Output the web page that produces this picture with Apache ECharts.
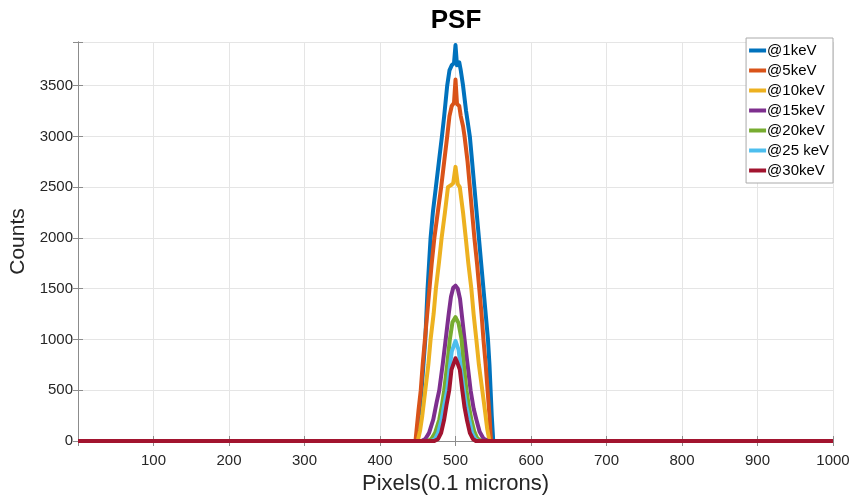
<!DOCTYPE html>
<html>
<head>
<meta charset="utf-8">
<script src="https://cdn.jsdelivr.net/npm/echarts@6/dist/echarts.min.js"></script>
<style>
html,body{margin:0;padding:0;background:#fff;}
#chart{width:855px;height:495px;}
</style>
</head>
<body>
<div id="chart"></div>
<script>
const seriesNames = ['@1keV','@5keV','@10keV','@15keV','@20keV','@25 keV','@30keV'];
const xTicks = [100,200,300,400,500,600,700,800,900,1000];
const yTicks = [0,500,1000,1500,2000,2500,3000,3500];

const psf1keV = [[0,0],[448,0],[450,150],[453,350],[455,500],[458,800],[460,1000],[461.5,1250],[463,1500],[465,1750],[467,2000],[470,2250],[474,2500],[478,2750],[482,3000],[485,3200],[489,3500],[492,3650],[495,3700],[498,3720],[500,3900],[502,3700],[505,3730],[507,3650],[510,3500],[514,3250],[519,3000],[522,2750],[525,2500],[528,2250],[531,2000],[534,1750],[537,1500],[540,1250],[543,1000],[545,750],[546.5,500],[548,250],[550,0],[1000,0]];
const psf5keV = [[0,0],[447,0],[449,150],[451,300],[454,500],[456.5,750],[459.5,1000],[462.5,1250],[465.5,1500],[468.5,1750],[472,2000],[476.5,2250],[481,2500],[485,2750],[489,3000],[492,3200],[495,3300],[498,3330],[500,3560],[502,3320],[505,3300],[507,3200],[510,3100],[512,3000],[516,2750],[519,2500],[522,2250],[525,2000],[528.5,1750],[531.5,1500],[534.5,1250],[537,1000],[540,750],[542.5,500],[545,250],[547,0],[1000,0]];
const psf10keV = [[0,0],[450,0],[453,100],[456,250],[460,500],[464,750],[467,1000],[471,1250],[474,1500],[478,1750],[481.6,2000],[486,2250],[490,2500],[494,2520],[497,2540],[500,2700],[503,2530],[505.7,2500],[510,2250],[513.6,2000],[517,1750],[521,1500],[524,1250],[527.6,1000],[531,750],[535.5,500],[539,300],[542,120],[545,0],[1000,0]];
const psf15keV = [[0,0],[455,0],[460,20],[465,80],[470.6,212],[475,380],[478.5,500],[483,750],[487,1000],[491,1250],[494,1420],[497,1510],[500,1530],[503,1500],[506,1400],[509,1200],[512,1000],[516,750],[520,500],[524,320],[527.6,212],[532,90],[537,25],[543,0],[1000,0]];
const psf20keV = [[0,0],[463,0],[468,20],[473,80],[478.5,212],[482,350],[485,500],[489,750],[492.5,1000],[496,1170],[500,1220],[504,1160],[508,1000],[511,750],[514.5,500],[518,330],[521,212],[525,90],[529,25],[534,0],[1000,0]];
const psf25keV = [[0,0],[468,0],[473,20],[477,80],[481.6,212],[485,350],[489,500],[492,700],[495,880],[500,985],[504,900],[507,720],[511,500],[514,350],[518,212],[522,80],[526,20],[530,0],[1000,0]];
const psf30keV = [[0,0],[472,0],[477,20],[481,80],[485,212],[488,350],[491.7,500],[494.7,703],[500,815],[503,760],[505.7,703],[509,500],[512,330],[515,212],[519,80],[523,20],[527,0],[1000,0]];

const allData = [psf1keV, psf5keV, psf10keV, psf15keV, psf20keV, psf25keV, psf30keV];
const colors = ['#0072BD','#D95319','#EDB120','#7E2F8E','#77AC30','#4DBEEE','#A2142F'];

const FONT = 'Liberation Sans, Arial, Helvetica, sans-serif';
const chart = echarts.init(document.getElementById('chart'), null, {renderer:'canvas'});

const gridLine = {show:true, lineStyle:{color:'#e5e5e5', width:1}};
const axisLineStyle = {show:true, lineStyle:{color:'#8c8c8c', width:1}};

chart.setOption({
  animation:false,
  backgroundColor:'#ffffff',
  color: colors,
  title:{
    text:'PSF', left:451, top:3, textAlign:'center',
    textStyle:{fontFamily:FONT, fontWeight:'bold', fontSize:26, color:'#000'}
  },
  legend:{
    orient:'vertical', right:22, top:38,
    data: seriesNames,
    icon:'rect', itemWidth:17, itemHeight:4, itemGap:5,
    backgroundColor:'#fff', borderColor:'#aaaaaa', borderWidth:1,
    padding:[5,4,5,3],
    textStyle:{fontFamily:FONT, fontSize:15, color:'#000', padding:[0,0,0,-4]}
  },
  grid:{left:78, right:22, top:42, bottom:54, containLabel:false, outerBoundsMode:'none'},
  xAxis:[{
    type:'value', min:0, max:1000, interval:100,
    name:'Pixels(0.1 microns)', nameLocation:'middle', nameGap:30,
    nameTextStyle:{fontFamily:FONT, fontSize:22, color:'#262626'},
    axisLine:axisLineStyle,
    axisTick:{show:true, inside:true, length:5, lineStyle:{color:'#8c8c8c'}},
    axisLabel:{fontFamily:FONT, fontSize:15, color:'#262626', margin:12,
      formatter: v => xTicks.includes(v) ? String(v) : ''},
    splitLine:gridLine
  },{
    type:'value', min:0, max:1000, interval:100, position:'top',
    axisLine:axisLineStyle,
    axisTick:{show:true, inside:true, length:5, lineStyle:{color:'#8c8c8c'}},
    axisLabel:{show:false}, splitLine:{show:false}
  }],
  yAxis:[{
    type:'value', min:0, max:3930, interval:500,
    name:'Counts', nameLocation:'middle', nameGap:40, nameRotate:90,
    nameTextStyle:{fontFamily:FONT, fontSize:21, color:'#262626'},
    axisLine:axisLineStyle,
    axisTick:{show:true, inside:true, length:5, lineStyle:{color:'#8c8c8c'}},
    axisLabel:{fontFamily:FONT, fontSize:15, color:'#262626', margin:5,
      formatter: v => yTicks.includes(v) ? String(v) : ''},
    splitLine:gridLine
  },{
    type:'value', min:0, max:3930, interval:500, position:'right',
    axisLine:axisLineStyle,
    axisTick:{show:true, inside:true, length:5, lineStyle:{color:'#8c8c8c'}},
    axisLabel:{show:false}, splitLine:{show:false}
  }],
  series: seriesNames.map((n,i)=>({
    name:n, type:'line', data:allData[i], showSymbol:false, symbol:'none',
    xAxisIndex:0, yAxisIndex:0,
    lineStyle:{width:4, color:colors[i], join:'round'},
    itemStyle:{color:colors[i]},
    z: 2+i
  }))
});
</script>
</body>
</html>
